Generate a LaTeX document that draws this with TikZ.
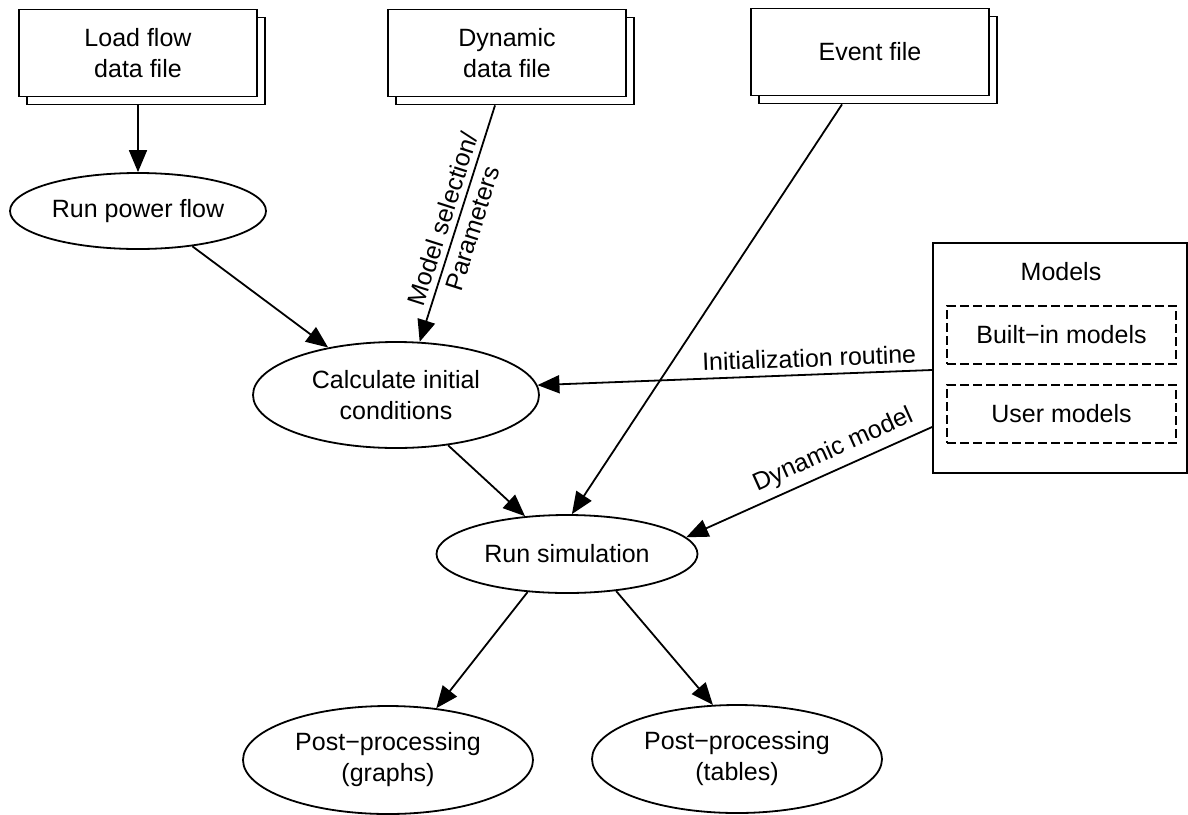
\documentclass[tikz,border=0pt]{standalone}
\usepackage{fontspec}
\setmainfont{Liberation Sans}
\usetikzlibrary{shapes.geometric,shadows,arrows.meta}

\tikzset{
  every node/.style={font=\fontsize{12.5}{15.5}\selectfont},
  filebox/.style={draw, fill=white, line width=0.9pt, minimum width=119pt,
    minimum height=43.5pt, align=center, inner sep=0pt,
    copy shadow={shadow xshift=4pt, shadow yshift=-4pt, draw=black, fill=white, line width=0.9pt}},
  proc/.style={ellipse, draw, line width=0.9pt, align=center, inner sep=0pt},
  modbox/.style={draw, dash pattern=on 4.5pt off 2pt, line width=0.9pt,
    minimum width=114.5pt, minimum height=29pt},
  flow/.style={line width=0.9pt, -{Triangle[length=11pt,width=9pt]}}
}

\begin{document}
\begin{tikzpicture}[x=0.5pt, y=-0.5pt]
    \useasboundingbox (0,0) rectangle (1188,814);

    % input files
    \node[filebox] (load) at (138,53) {Load flow\\data file};
    \node[filebox] (dyn) at (507,53) {Dynamic\\data file};
    \node[filebox] (evt) at (870,52) {Event file};

    % processing steps
    \node[proc, minimum width=128pt, minimum height=38pt] (pf) at (138,211) {Run power flow};
    \node[proc, minimum width=143pt, minimum height=53pt] (calc) at (396,395) {Calculate initial\\conditions};
    \node[proc, minimum width=130.5pt, minimum height=39pt] (sim) at (567,554) {Run simulation};
    \node[proc, minimum width=145pt, minimum height=54pt] (graphs) at (388,760) {Post−processing\\(graphs)};
    \node[proc, minimum width=145pt, minimum height=54pt] (tables) at (737,759) {Post−processing\\(tables)};

    % model library
    \node[draw, line width=0.9pt, minimum width=127pt, minimum height=115pt] (models) at (1060,358) {};
    \node (modtitle) at (1061,272) {Models};
    \node[modbox] (builtin) at (1061.5,335) {Built−in models};
    \node[modbox] (user) at (1061.5,414) {User models};

    % connectors
    \draw[flow] ([yshift=-4pt]load.south) -- (pf.north);
    \draw[flow] (pf.-33) -- (calc.145);
    \draw[flow] ([xshift=-6pt,yshift=-4pt]dyn.south) -- node[sloped, align=center] {Model selection/\\Parameters} (calc.66);
    \draw[flow] (calc.-44) -- (sim.138);
    \draw[flow] ([xshift=-14pt,yshift=-4pt]evt.south) -- (sim.83);
    \draw[flow] ([yshift=-6pt]models.west) -- node[sloped, above, pos=0.31] {Initialization routine} (calc.4);
    \draw[flow] ([yshift=-34.5pt]models.west) -- node[sloped, above, pos=0.37] {Dynamic model} (sim.8);
    \draw[flow] (sim.-136) -- (graphs.47);
    \draw[flow] (sim.-37) -- (tables.114);
\end{tikzpicture}
\end{document}
